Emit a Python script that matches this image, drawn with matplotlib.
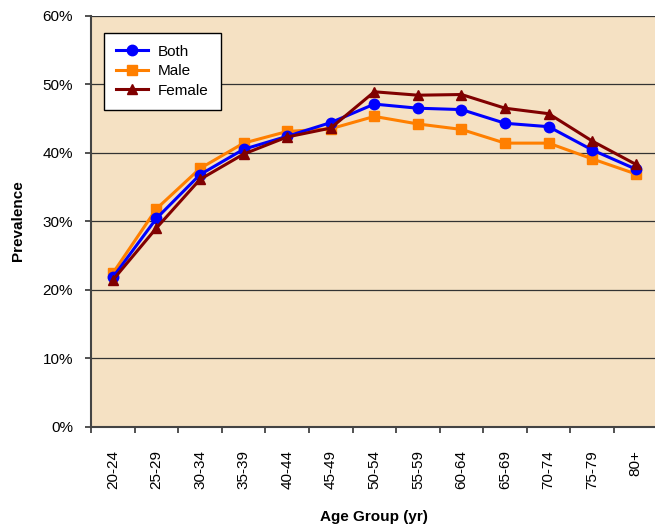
import matplotlib
matplotlib.use("Agg")
import matplotlib.pyplot as plt
import matplotlib.ticker as ticker
import numpy as np

plt.rcParams['font.family'] = ['Liberation Sans', 'DejaVu Sans']

age_groups = ['20-24', '25-29', '30-34', '35-39', '40-44', '45-49', '50-54',
              '55-59', '60-64', '65-69', '70-74', '75-79', '80+']
both = [21.8, 30.4, 36.8, 40.5, 42.4, 44.4, 47.1, 46.5, 46.3, 44.3, 43.8, 40.4, 37.6]
male = [22.4, 31.8, 37.7, 41.4, 43.1, 43.5, 45.3, 44.2, 43.4, 41.4, 41.4, 39.1, 36.9]
female = [21.4, 29.0, 36.1, 39.8, 42.3, 43.6, 48.9, 48.4, 48.5, 46.5, 45.7, 41.7, 38.3]

fig = plt.figure(figsize=(6.55, 5.26), dpi=100)
ax = fig.add_axes([0.139, 0.189, 0.865, 0.781])
ax.set_facecolor('#F5E1C3')

x = np.arange(len(age_groups))
ax.plot(x, both, color='#0000FF', lw=2.2, marker='o', ms=7.5, label='Both', zorder=5)
ax.plot(x, male, color='#FF7F00', lw=2.2, marker='s', ms=7, label='Male', zorder=4)
ax.plot(x, female, color='#800000', lw=2.2, marker='^', ms=7.5, label='Female', zorder=6)

ax.set_xlim(-0.5, len(age_groups) - 0.5)
ax.set_ylim(0, 60)
ax.yaxis.set_major_locator(ticker.MultipleLocator(10))
ax.yaxis.set_major_formatter(ticker.FuncFormatter(lambda v, p: f'{v:.0f}%'))
ax.grid(axis='y', color='#333333', lw=0.9)
ax.set_axisbelow(True)

# labels at category centres, tick marks on the boundaries
ax.set_xticks(x)
ax.set_xticklabels(age_groups, rotation=90)
ax.set_xticks(np.arange(len(age_groups) + 1) - 0.5, minor=True)
ax.tick_params(axis='x', which='major', length=0, pad=17, labelsize=11)
ax.tick_params(axis='x', which='minor', length=4, width=1.2, direction='out', color='#333333')
ax.tick_params(axis='y', length=4, width=1.2, pad=9, labelsize=11, color='#333333')

for side in ['top', 'right']:
    ax.spines[side].set_visible(False)
for side in ['left', 'bottom']:
    ax.spines[side].set_color('#444444')
    ax.spines[side].set_linewidth(1.5)

leg = ax.legend(loc='upper left', bbox_to_anchor=(0.023, 0.959), borderaxespad=0,
                fancybox=False, framealpha=1, edgecolor='black', fontsize=11,
                handlelength=2.1, borderpad=0.8, labelspacing=0.35, handletextpad=0.6)
leg.get_frame().set_linewidth(1.0)

fig.text(18 / 655, 1 - 221 / 526, 'Prevalence', rotation=90, ha='center', va='center',
         fontsize=11, fontweight='bold')
fig.text(374 / 655, 1 - 517 / 526, 'Age Group (yr)', ha='center', va='center',
         fontsize=11, fontweight='bold')

fig.savefig('out.png', dpi=100)
